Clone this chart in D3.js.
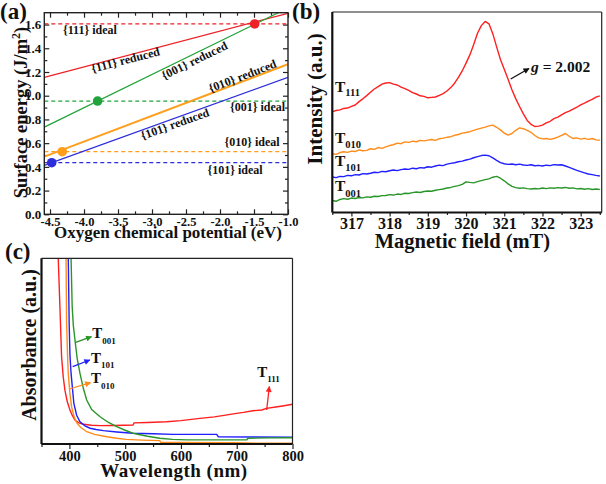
<!DOCTYPE html>
<html>
<head>
<meta charset="utf-8">
<script src="https://cdn.jsdelivr.net/npm/d3@7"></script>
<style>
  body { margin: 0; background: #fff; }
  svg text { font-family: "Liberation Serif", Tinos, "DejaVu Serif", serif !important; font-weight: bold; fill: #111; }
</style>
</head>
<body>
<div id="chart-container"></div>
<script>
// ---------- (a) surface energy vs oxygen chemical potential ----------
const facets = ["{111}", "{001}", "{010}", "{101}"];
const facetColors = ["#ec2227", "#21a33b", "#ff9e1b", "#2d2ddb"];
const muRange = [-4.584, -1.0];
const idealEnergy = [1.605, 0.955, 0.528, 0.435];
const reducedAtStart = [1.155, 0.735, 0.486, 0.413];
const reducedAtEnd = [1.695, 1.74, 1.265, 1.155];
const crossMu = [-1.49, -3.80, -4.32, -4.475];
const muTicks = [-4.5, -4.0, -3.5, -3.0, -2.5, -2.0, -1.5, -1.0];
const muMinor = [-4.25, -3.75, -3.25, -2.75, -2.25, -1.75, -1.25];
const energyTicks = [0.0, 0.2, 0.4, 0.6, 0.8, 1.0, 1.2, 1.4, 1.6];
const energyMinor = [0.1, 0.3, 0.5, 0.7, 0.9, 1.1, 1.3, 1.5];

// ---------- (b) EPR spectra ----------
const fieldStart = 316.5, fieldStep = 0.1;
const eprT111 = [50.2,50.9,51.2,51.9,52.1,52.9,53.6,55.3,56.7,58.3,60.0,61.6,62.8,64.0,64.6,64.8,64.0,63.6,62.5,61.8,
  60.9,59.8,59.1,58.2,57.9,57.2,57.4,57.6,58.4,59.3,60.6,62.3,64.5,67.4,70.6,74.5,78.6,83.8,89.4,93.2,
  95.3,94.1,89.2,82.6,76.3,71.4,66.5,61.2,56.8,52.9,49.2,45.9,44.0,42.9,43.1,43.6,44.7,45.5,46.8,47.6,
  48.7,49.8,50.6,51.6,52.5,53.7,54.5,55.6,56.4,57.5,58.2];
const eprT010 = [29.3,29.0,29.9,30.3,30.0,30.6,30.4,31.2,30.8,31.0,31.8,31.5,32.4,32.0,32.7,33.4,33.8,34.6,34.3,35.2,
  35.0,35.6,35.3,36.0,35.7,36.1,36.4,36.0,36.8,37.1,37.5,37.8,38.5,38.9,39.6,39.9,40.3,41.0,41.6,42.1,
  42.6,43.2,43.6,42.5,41.2,39.6,38.6,39.4,41.0,42.2,41.8,41.0,40.0,38.4,37.2,36.7,36.9,36.5,36.9,37.6,
  38.5,39.4,38.0,36.9,37.2,36.6,37.0,36.5,36.9,36.2,36.0];
const eprT101 = [17.7,17.4,18.0,17.9,18.5,18.3,18.9,18.7,19.4,19.2,19.6,20.1,19.9,20.5,20.3,20.8,21.2,20.9,21.4,21.7,
  21.5,22.1,21.8,22.4,22.2,22.8,22.6,23.2,23.6,23.4,24.1,24.5,24.8,25.3,25.6,26.2,26.6,27.3,27.9,28.4,
  28.6,28.3,27.2,26.0,24.9,24.3,24.0,24.2,23.8,24.1,23.7,23.5,23.8,23.3,23.5,23.2,23.6,23.4,23.9,23.7,
  23.8,23.2,22.5,21.8,21.0,20.4,19.8,19.2,18.9,18.5,18.2];
const eprT001 = [6.0,5.6,6.5,6.9,6.6,7.2,7.0,7.5,7.3,7.8,7.6,8.1,8.0,8.4,8.5,8.9,8.7,9.2,9.0,9.6,
  9.5,9.9,10.2,10.0,10.5,10.7,10.6,11.1,11.4,11.7,12.2,12.5,13.0,13.4,14.0,15.3,15.0,14.8,15.4,15.9,
  16.4,16.8,17.6,18.0,17.1,15.8,14.3,13.0,12.4,12.1,12.3,11.9,11.7,12.0,11.8,12.2,11.9,12.3,12.1,12.4,
  12.2,12.5,12.1,12.3,11.8,12.0,11.6,11.9,11.5,11.7,11.5];
const eprNames = ["111", "010", "101", "001"];
const eprColors = ["#ff1f1f", "#ff8c1a", "#1f1fff", "#2a962a"];
const fieldTicks = [317, 318, 319, 320, 321, 322, 323];
const fieldMinor = [316.5, 317.5, 318.5, 319.5, 320.5, 321.5, 322.5, 323.5];

// ---------- (c) UV-vis absorbance ----------
const uvT111Nm  = [377,380,383,386,389,392,396,401,405,410,417,425,440,455,480,514,516,540,574,600,634,660,694,712,729,745,753,770,785,800];
const uvT111Abs = [115,100,74,47,36,29,23,18.3,15.5,12.9,11.4,10.6,10.1,9.9,10.0,10.2,11.4,11.6,12.0,12.6,13.8,14.6,16.2,17.0,17.9,18.3,19.2,19.9,20.6,21.4];
const uvT010Nm  = [392,394,395,397,398,401,404,408,413,420,431,445,467,485,502,530,562,564,600,694,720,800];
const uvT010Abs = [115,100,65,45,38,27,20,15,11.5,9.0,6.6,5.2,3.9,3.1,2.5,2.1,1.8,0.9,0.8,0.7,0.5,0.4];
const uvT101Nm  = [396,398,399.6,401,403,408,413,419,428,437,448,461,485,514,550,586,664,667,730,800];
const uvT101Abs = [115,100,65,48,38,21.9,15.5,12,9.8,8.5,7.8,7.2,6.5,5.8,5.5,5.2,5.2,3.9,3.8,3.6];
const uvT001Nm  = [401,403,405,407,410,414,419,425,431,440,455,470,485,500,514,540,562,585,610,718,720,760,800];
const uvT001Abs = [115,100,74,64,56,46,38,30,23.7,18.5,14.7,11.6,9.3,7.4,5.8,4.2,3.1,2.5,2.2,2.2,3.1,3.3,3.4];
const uvColors = { T111: "#ff1f1f", T010: "#ff8c1a", T101: "#1f1fff", T001: "#2a962a" };
const nmTicks = [400, 500, 600, 700, 800];
const nmMinor = [350, 450, 550, 650, 750];

const svg = d3.select("#chart-container")
    .append("svg")
    .attr("width", 606)
    .attr("height", 484);

const defs = svg.append("defs");
function arrowMarker(id, color) {
    defs.append("marker")
        .attr("id", id)
        .attr("viewBox", "0 0 10 10")
        .attr("refX", 9).attr("refY", 5)
        .attr("markerUnits", "userSpaceOnUse")
        .attr("markerWidth", 7).attr("markerHeight", 6)
        .attr("orient", "auto")
        .append("path")
        .attr("d", "M0,0 L10,5 L0,10 z")
        .attr("fill", color);
}

// label like T with a subscript
function subLabel(g, x, y, main, sub, size, subSize, dy, color) {
    const t = g.append("text").attr("x", x).attr("y", y)
        .style("font-size", size + "px").style("fill", color || "#111");
    t.append("tspan").text(main);
    t.append("tspan").attr("dy", dy).style("font-size", subSize + "px").text(sub);
}

function styleAxis(sel, size) {
    sel.attr("font-family", null);
    sel.select(".domain").remove();
    sel.selectAll("line").attr("stroke", "#222").attr("stroke-width", 1.2);
    sel.selectAll("text").style("font-size", size + "px").style("fill", "#111");
}

// =================== panel (a) ===================
const pa = {left: 44.3, top: 12.7, width: 243.7, height: 201.6};
const ga = svg.append("g").attr("transform", `translate(${pa.left},${pa.top})`);
const xA = d3.scaleLinear().domain(muRange).range([0, pa.width]);
const yA = d3.scaleLinear().domain([0, 1.7]).range([pa.height, 0]);

// ticks pointing inward on all four sides
ga.append("g").attr("transform", `translate(0,${pa.height})`)
    .call(d3.axisBottom(xA).tickValues(muTicks).tickSize(-5).tickPadding(3).tickFormat(d => d.toFixed(1)))
    .call(s => styleAxis(s, 12.5));
ga.append("g").attr("transform", `translate(0,${pa.height})`)
    .call(d3.axisBottom(xA).tickValues(muMinor).tickSize(-3).tickFormat(""))
    .call(s => styleAxis(s, 12));
ga.append("g").call(d3.axisTop(xA).tickValues(muTicks).tickSize(-5).tickFormat(""))
    .call(s => styleAxis(s, 12));
ga.append("g").call(d3.axisTop(xA).tickValues(muMinor).tickSize(-3).tickFormat(""))
    .call(s => styleAxis(s, 12));
ga.append("g")
    .call(d3.axisLeft(yA).tickValues(energyTicks).tickSize(-5).tickPadding(3).tickFormat(d => d.toFixed(1)))
    .call(s => styleAxis(s, 13));
ga.append("g").call(d3.axisLeft(yA).tickValues(energyMinor).tickSize(-3).tickFormat(""))
    .call(s => styleAxis(s, 12));
ga.append("g").attr("transform", `translate(${pa.width},0)`)
    .call(d3.axisRight(yA).tickValues(energyTicks).tickSize(-5).tickFormat(""))
    .call(s => styleAxis(s, 12));
ga.append("g").attr("transform", `translate(${pa.width},0)`)
    .call(d3.axisRight(yA).tickValues(energyMinor).tickSize(-3).tickFormat(""))
    .call(s => styleAxis(s, 12));

ga.append("clipPath").attr("id", "clipA")
    .append("rect").attr("width", pa.width).attr("height", pa.height);
const plotA = ga.append("g").attr("clip-path", "url(#clipA)");

facets.forEach((f, i) => {
    // ideal surface: flat dashed line
    plotA.append("line")
        .attr("x1", xA(muRange[0])).attr("x2", xA(muRange[1]))
        .attr("y1", yA(idealEnergy[i])).attr("y2", yA(idealEnergy[i]))
        .attr("stroke", facetColors[i]).attr("stroke-width", 1.2)
        .attr("stroke-dasharray", "4,3");
    // reduced surface
    plotA.append("line")
        .attr("x1", xA(muRange[0])).attr("x2", xA(muRange[1]))
        .attr("y1", yA(reducedAtStart[i])).attr("y2", yA(reducedAtEnd[i]))
        .attr("stroke", facetColors[i]).attr("stroke-width", f === "{010}" ? 2 : 1.2);
});
plotA.selectAll("circle.cross")
    .data(facets)
    .enter()
    .append("circle")
    .attr("cx", (d, i) => xA(crossMu[i]))
    .attr("cy", (d, i) => yA(idealEnergy[i]))
    .attr("r", 4.8)
    .style("fill", (d, i) => facetColors[i]);

ga.append("rect").attr("width", pa.width).attr("height", pa.height)
    .attr("fill", "none").attr("stroke", "#222").attr("stroke-width", 1.4);

// facet labels (page coordinates)
const idealLabels = [
    {text: "{111} ideal", x: 63, y: 34},
    {text: "{001} ideal", x: 230, y: 111},
    {text: "{010} ideal", x: 224.5, y: 146},
    {text: "{101} ideal", x: 207.5, y: 174}
];
idealLabels.forEach(l => {
    svg.append("text").attr("x", l.x).attr("y", l.y).style("font-size", "12px").text(l.text);
});
const reducedLabels = [
    {text: "{111} reduced", x: 125.5, y: 60, a: -14.5},
    {text: "{001} reduced", x: 194.5, y: 60.5, a: -26},
    {text: "{010} reduced", x: 242.5, y: 76, a: -21},
    {text: "{101} reduced", x: 175, y: 124, a: -19.5}
];
reducedLabels.forEach(l => {
    svg.append("text")
        .attr("transform", `translate(${l.x},${l.y}) rotate(${l.a})`)
        .attr("text-anchor", "middle")
        .attr("dominant-baseline", "central")
        .style("font-size", "12px")
        .text(l.text);
});

svg.append("text").attr("x", 168).attr("y", 238).attr("text-anchor", "middle")
    .style("font-size", "17px").text("Oxygen chemical potential (eV)");
const yTitleA = svg.append("text")
    .attr("transform", "translate(27,112.5) rotate(-90)")
    .attr("text-anchor", "middle")
    .style("font-size", "18.5px");
yTitleA.append("tspan").text("Surface energy (J/m");
yTitleA.append("tspan").attr("dy", -7).style("font-size", "12px").text("2");
yTitleA.append("tspan").attr("dy", 7).text(")");
svg.append("text").attr("x", 0).attr("y", 19).style("font-size", "23px").text("(a)");

// =================== panel (b) ===================
const pb = {left: 332.3, top: 12, width: 269.4, height: 200.5};
const gb = svg.append("g").attr("transform", `translate(${pb.left},${pb.top})`);
const xB = d3.scaleLinear().domain([316.5, 323.55]).range([0, pb.width]);
const yB = d3.scaleLinear().domain([0, 100]).range([pb.height, 0]);

gb.append("g").attr("transform", `translate(0,${pb.height})`)
    .call(d3.axisBottom(xB).tickValues(fieldTicks).tickSize(4).tickPadding(1.5).tickFormat(d3.format("d")))
    .call(s => styleAxis(s, 16));
gb.append("g").attr("transform", `translate(0,${pb.height})`)
    .call(d3.axisBottom(xB).tickValues(fieldMinor).tickSize(2.5).tickFormat(""))
    .call(s => styleAxis(s, 12));

gb.append("clipPath").attr("id", "clipB")
    .append("rect").attr("width", pb.width).attr("height", pb.height);
const plotB = gb.append("g").attr("clip-path", "url(#clipB)");
const eprLine = d3.line()
    .x((d, i) => xB(fieldStart + i * fieldStep))
    .y(d => yB(d));
[eprT111, eprT010, eprT101, eprT001].forEach((series, k) => {
    plotB.append("path")
        .datum(series)
        .attr("d", eprLine)
        .attr("fill", "none")
        .attr("stroke", eprColors[k])
        .attr("stroke-width", 1.4)
        .attr("stroke-linejoin", "round");
});

// frame: thick left & bottom, thin top & right
gb.append("line").attr("x1", 0).attr("x2", pb.width).attr("y1", 0).attr("y2", 0)
    .attr("stroke", "#222").attr("stroke-width", 1.2);
gb.append("line").attr("x1", pb.width).attr("x2", pb.width).attr("y1", 0).attr("y2", pb.height)
    .attr("stroke", "#222").attr("stroke-width", 1.2);
gb.append("line").attr("x1", 0).attr("x2", pb.width).attr("y1", pb.height).attr("y2", pb.height)
    .attr("stroke", "#111").attr("stroke-width", 2);
gb.append("line").attr("x1", 0).attr("x2", 0).attr("y1", 0).attr("y2", pb.height)
    .attr("stroke", "#111").attr("stroke-width", 2.2);

const eprLabelPos = [
    {x: 335, y: 91.7, dy: 4.5},
    {x: 335, y: 142.7, dy: 5.5},
    {x: 335, y: 166, dy: 4.7},
    {x: 335, y: 191, dy: 5.5}
];
eprNames.forEach((n, k) => {
    subLabel(svg, eprLabelPos[k].x, eprLabelPos[k].y, "T", n, 15.5, 10.5, eprLabelPos[k].dy);
});

arrowMarker("arrowBlack", "#111");
svg.append("line").attr("x1", 510.7).attr("y1", 79).attr("x2", 529).attr("y2", 68.5)
    .attr("stroke", "#111").attr("stroke-width", 1.3).attr("marker-end", "url(#arrowBlack)");
const gText = svg.append("text").attr("x", 531).attr("y", 71.5).style("font-size", "15.5px");
gText.append("tspan").style("font-style", "italic").text("g");
gText.append("tspan").text(" = 2.002");

svg.append("text").attr("x", 462.4).attr("y", 248.3).attr("text-anchor", "middle")
    .style("font-size", "20.5px").text("Magnetic field (mT)");
svg.append("text").attr("transform", "translate(322,99) rotate(-90)").attr("text-anchor", "middle")
    .style("font-size", "21px").text("Intensity (a.u.)");
svg.append("text").attr("x", 292).attr("y", 19).style("font-size", "23px").text("(b)");

// =================== panel (c) ===================
const pc = {left: 41.5, top: 258.3, width: 251, height: 185.7};
const gc = svg.append("g").attr("transform", `translate(${pc.left},${pc.top})`);
const xC = d3.scaleLinear().domain([350, 800]).range([0, pc.width]);
const yC = d3.scaleLinear().domain([0, 100]).range([pc.height, 0]);

gc.append("g").attr("transform", `translate(0,${pc.height})`)
    .call(d3.axisBottom(xC).tickValues(nmTicks).tickSize(5).tickPadding(1.5).tickFormat(d3.format("d")))
    .call(s => styleAxis(s, 14.5));
gc.append("g").attr("transform", `translate(0,${pc.height})`)
    .call(d3.axisBottom(xC).tickValues(nmMinor).tickSize(3).tickFormat(""))
    .call(s => styleAxis(s, 12));

gc.append("clipPath").attr("id", "clipC")
    .append("rect").attr("width", pc.width).attr("height", pc.height);
const plotC = gc.append("g").attr("clip-path", "url(#clipC)");
const uvSeries = [
    {name: "T111", nm: uvT111Nm, abs: uvT111Abs},
    {name: "T010", nm: uvT010Nm, abs: uvT010Abs},
    {name: "T101", nm: uvT101Nm, abs: uvT101Abs},
    {name: "T001", nm: uvT001Nm, abs: uvT001Abs}
];
uvSeries.forEach(s => {
    const pts = s.nm.map((v, i) => [v, s.abs[i]]);
    plotC.append("path")
        .datum(pts)
        .attr("d", d3.line().x(d => xC(d[0])).y(d => yC(d[1])))
        .attr("fill", "none")
        .attr("stroke", uvColors[s.name])
        .attr("stroke-width", 1.4);
});

gc.append("line").attr("x1", 0).attr("x2", pc.width).attr("y1", 0).attr("y2", 0)
    .attr("stroke", "#222").attr("stroke-width", 1.2);
gc.append("line").attr("x1", pc.width).attr("x2", pc.width).attr("y1", 0).attr("y2", pc.height)
    .attr("stroke", "#222").attr("stroke-width", 1.2);
gc.append("line").attr("x1", 0).attr("x2", pc.width).attr("y1", pc.height).attr("y2", pc.height)
    .attr("stroke", "#111").attr("stroke-width", 2);
gc.append("line").attr("x1", 0).attr("x2", 0).attr("y1", 0).attr("y2", pc.height)
    .attr("stroke", "#111").attr("stroke-width", 2.2);

// pointer arrows and labels
const uvArrows = [
    {name: "T001", x1: 75, y1: 342.7, x2: 91.5, y2: 336.7, tx: 92.3, ty: 338.3},
    {name: "T101", x1: 72.7, y1: 366.7, x2: 89.8, y2: 360, tx: 91, ty: 362.7},
    {name: "T010", x1: 69.3, y1: 389, x2: 90.5, y2: 382.7, tx: 91, ty: 383.3},
    {name: "T111", x1: 266.7, y1: 410, x2: 269.3, y2: 386.5, tx: 257.3, ty: 376.7}
];
uvArrows.forEach(a => {
    arrowMarker("arrow" + a.name, uvColors[a.name]);
    svg.append("line").attr("x1", a.x1).attr("y1", a.y1).attr("x2", a.x2).attr("y2", a.y2)
        .attr("stroke", uvColors[a.name]).attr("stroke-width", 1.3)
        .attr("marker-end", `url(#arrow${a.name})`);
    subLabel(svg, a.tx, a.ty, "T", a.name.slice(1), 15, 9, 5.2);
});

svg.append("text").attr("x", 174).attr("y", 476.7).attr("text-anchor", "middle")
    .style("font-size", "19px").style("letter-spacing", "0.5px").text("Wavelength (nm)");
svg.append("text").attr("transform", "translate(36,345) rotate(-90)").attr("text-anchor", "middle")
    .style("font-size", "20px").text("Absorbance (a.u.)");
svg.append("text").attr("x", 5).attr("y", 259).style("font-size", "23px").text("(c)");
</script>
</body>
</html>
